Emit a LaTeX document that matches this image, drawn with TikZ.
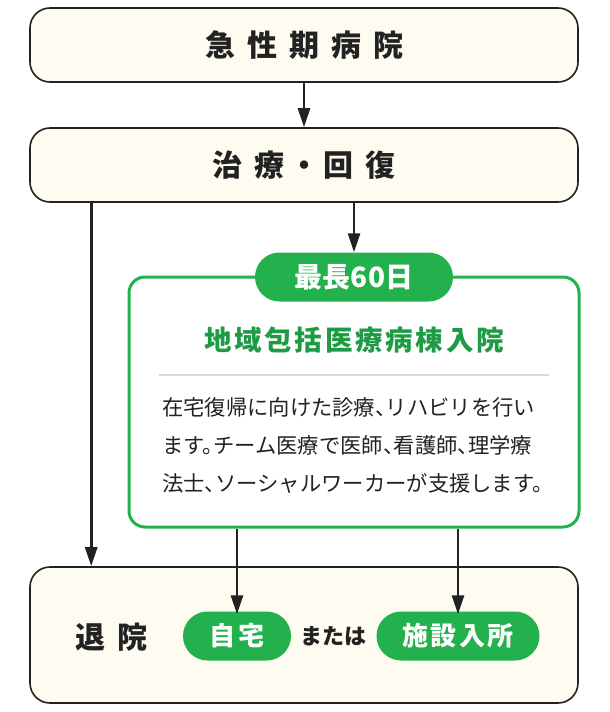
\documentclass[tikz,border=0pt]{standalone}
\usepackage{fontspec}
\usetikzlibrary{arrows.meta}
\newfontfamily\jp{Noto Sans CJK JP}
\newfontfamily\jpbody[RawFeature=+halt]{Noto Sans CJK JP}
\newfontfamily\jphead[LetterSpace=40]{Noto Sans CJK JP}
\newfontfamily\jpheadhalf[LetterSpace=40,RawFeature=+halt]{Noto Sans CJK JP}
\newfontfamily\jpwide[LetterSpace=10]{Noto Sans CJK JP}
\newcommand\headfont{\jphead\bfseries\fontsize{30}{30}\selectfont}
\newcommand\pillfont{\jpwide\bfseries\fontsize{26}{26}\selectfont}
\newcommand\bodyfont{\jpbody\fontsize{21.3}{21.3}\selectfont}
\definecolor{cream}{HTML}{FEFCF1}
\definecolor{kgreen}{HTML}{22B14C}
\definecolor{tgreen}{HTML}{1E9C45}
\definecolor{ink}{HTML}{222222}
\definecolor{rulegray}{HTML}{D6D9DD}
\begin{document}
\begin{tikzpicture}[x=1pt, y=-1pt, >={Triangle[length=19pt,width=12pt]},
  main box/.style={draw=ink, line width=1.6pt, fill=cream, rounded corners=20pt, minimum width=548pt, minimum height=74pt, inner sep=0pt, text=ink, font=\headfont},
  ward box/.style={draw=kgreen, line width=3pt, fill=white, rounded corners=16pt, minimum width=450pt, minimum height=250pt, inner sep=0pt},
  pill/.style={fill=kgreen, text=white, rounded corners=24.5pt, minimum height=49pt, inner sep=0pt, font=\pillfont},
  arr/.style={->, draw=ink, line width=2.8pt}]%
\useasboundingbox (0,0) rectangle (610,712);
\begin{scope}
\node[main box] (acute) at (304,45) {急性期病院};
\node[main box, font=\jpheadhalf\bfseries\fontsize{30}{30}\selectfont] (rec) at (304,165) {治療・回復};
\node[ward box] (ward) at (354,402) {};
\node[pill, minimum width=198pt, font=\jp\bfseries\fontsize{28}{28}\selectfont] (badge) at (354,277) {最長60日};
\node[text=tgreen, font=\jpwide\bfseries\fontsize{27.5}{27.5}\selectfont] (wtitle) at (354,340) {地域包括医療病棟入院};
\draw[rulegray, line width=1.5pt] (159,375) -- (549,375);
\end{scope}
\begin{scope}[every node/.style={anchor=base west, inner sep=0pt, text=ink, font=\bodyfont}]
\node (line1) at (162,415.6) {在宅復帰に向けた診療、リハビリを行い};
\node (line2) at (162,453.6) {ます。チーム医療で医師、看護師、理学療};
\node (line3) at (162,491.6) {法士、ソーシャルワーカーが支援します。};
\end{scope}
\begin{scope}
\node[main box, minimum height=136pt] (dis) at (304,635) {};
\node[text=ink, font=\headfont] (distext) at (111,637) {退院};
\node[pill, minimum width=108pt] (home) at (237,636) {自宅};
\node[text=ink, font=\jp\bfseries\fontsize{22}{22}\selectfont] (or) at (333,636) {または};
\node[pill, minimum width=163pt] (facility) at (458,636) {施設入所};
\end{scope}
\begin{scope}
\draw[arr] (acute) -- (rec);
\draw[arr] (rec.south -| badge.north) -- (badge.north);
\draw[arr] ([xshift=62pt]rec.south west) -- ([xshift=62pt]dis.north west);
\draw[arr] (ward.south -| home.north) -- ([yshift=-3pt]home.north);
\draw[arr] (ward.south -| facility.north) -- ([yshift=-3pt]facility.north);
\end{scope}
\end{tikzpicture}
\end{document}
